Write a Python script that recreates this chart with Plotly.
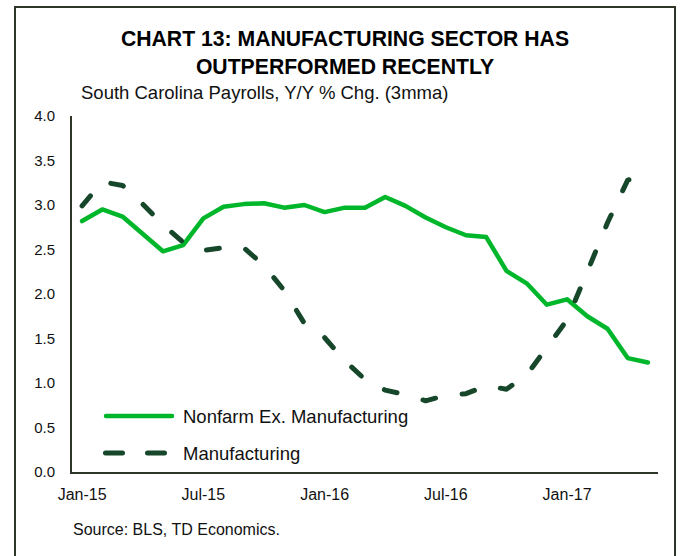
import plotly.graph_objects as go

# ---- data ----
months = ["Jan-15", "Feb-15", "Mar-15", "Apr-15", "May-15", "Jun-15", "Jul-15", "Aug-15",
          "Sep-15", "Oct-15", "Nov-15", "Dec-15", "Jan-16", "Feb-16", "Mar-16", "Apr-16",
          "May-16", "Jun-16", "Jul-16", "Aug-16", "Sep-16", "Oct-16", "Nov-16", "Dec-16",
          "Jan-17", "Feb-17", "Mar-17", "Apr-17", "May-17"]
nonfarm_ex_mfg = [2.82, 2.95, 2.87, 2.68, 2.48, 2.55, 2.85, 2.98, 3.01, 3.02, 2.97, 3.00,
                  2.92, 2.97, 2.97, 3.09, 2.99, 2.86, 2.75, 2.66, 2.64, 2.26, 2.12, 1.88,
                  1.94, 1.75, 1.61, 1.28, 1.23]
manufacturing = [2.99, 3.26, 3.22, 3.01, 2.78, 2.58, 2.49, 2.52, 2.52, 2.32, 2.04, 1.67,
                 1.51, 1.25, 1.04, 0.92, 0.87, 0.80, 0.86, 0.88, 0.97, 0.93, 1.09, 1.41,
                 1.71, 2.25, 2.80, 3.28, 3.33]
series_names = ["Nonfarm Ex. Manufacturing", "Manufacturing"]
x_tick_labels = ["Jan-15", "Jul-15", "Jan-16", "Jul-16", "Jan-17"]
title_text = "CHART 13: MANUFACTURING SECTOR HAS<br>OUTPERFORMED RECENTLY"
subtitle_text = "South Carolina Payrolls, Y/Y % Chg. (3mma)"
source_text = "Source: BLS, TD Economics."

# ---- style ----
GREEN = "#00B62A"
DARK = "#17472A"
AXIS = "#2E3529"
FONT = "Liberation Sans, Arial, sans-serif"
W, H = 681, 556
L, R, T, B = 72, 23, 116, 84
PW, PH = W - L - R, H - T - B


def px(xp):
    return (xp - L) / PW


def py(yp):
    return (H - B - yp) / PH


fig = go.Figure()
fig.add_trace(go.Scatter(x=months, y=nonfarm_ex_mfg, mode="lines", name=series_names[0],
                         line=dict(color=GREEN, width=4.5), showlegend=False))
fig.add_trace(go.Scatter(x=months, y=manufacturing, mode="lines", name=series_names[1],
                         line=dict(color=DARK, width=5, dash="13px,27px"), showlegend=False))

frame = dict(color=AXIS, width=2)
shapes = [
    # outer frame (open at the bottom, as in the source)
    dict(type="line", xref="paper", yref="paper", x0=px(15), x1=px(675), y0=py(7), y1=py(7), line=frame),
    dict(type="line", xref="paper", yref="paper", x0=px(15), x1=px(15), y0=py(7), y1=py(556), line=frame),
    dict(type="line", xref="paper", yref="paper", x0=px(675), x1=px(675), y0=py(7), y1=py(556), line=frame),
    # legend samples
    dict(type="line", xref="paper", yref="paper", x0=px(106), x1=px(172), y0=py(416), y1=py(416),
         line=dict(color=GREEN, width=4.5)),
    dict(type="line", xref="paper", yref="paper", x0=px(105.5), x1=px(165), y0=py(453), y1=py(453),
         line=dict(color=DARK, width=5, dash="17px,25px")),
]

annotations = [
    dict(text=subtitle_text, xref="paper", yref="paper", x=px(79), y=py(93), xanchor="left",
         yanchor="middle", showarrow=False, font=dict(family=FONT, size=18.5, color="#111")),
    dict(text=series_names[0], xref="paper", yref="paper", x=px(181), y=py(416), xanchor="left",
         yanchor="middle", showarrow=False, font=dict(family=FONT, size=18.5, color="#111")),
    dict(text=series_names[1], xref="paper", yref="paper", x=px(181), y=py(453), xanchor="left",
         yanchor="middle", showarrow=False, font=dict(family=FONT, size=18.5, color="#111")),
    dict(text=source_text, xref="paper", yref="paper", x=px(71), y=py(529), xanchor="left",
         yanchor="middle", showarrow=False, font=dict(family=FONT, size=16, color="#111")),
]

fig.update_layout(
    width=W, height=H,
    margin=dict(l=L, r=R, t=T, b=B, pad=0),
    paper_bgcolor="white", plot_bgcolor="white",
    title=dict(text=title_text, x=345 / W, xanchor="center", xref="container",
               y=1 - 46 / H, yanchor="top", yref="container",
               font=dict(family=FONT, size=21.2, color="#000", weight="bold")),
    font=dict(family=FONT, color="#111"),
    shapes=shapes, annotations=annotations,
    showlegend=False,
)
fig.update_xaxes(type="category", range=[-0.5, len(months) - 0.5], tickmode="array",
                 tickvals=x_tick_labels, ticktext=x_tick_labels, showgrid=False,
                 showline=True, linecolor=AXIS, linewidth=2, ticks="",
                 ticklabelstandoff=7, tickfont=dict(family=FONT, size=16, color="#111"),
                 zeroline=False)
fig.update_yaxes(range=[0, 4], dtick=0.5, tickformat=".1f", showgrid=False,
                 showline=True, linecolor=AXIS, linewidth=2, ticks="",
                 ticklabelstandoff=12, tickfont=dict(family=FONT, size=15, color="#111"),
                 zeroline=False)

post = """
document.body.style.margin = '0';
function roundCaps() {
  document.querySelectorAll('.scatterlayer .js-line, .shapelayer path').forEach(function (p) {
    p.style.strokeLinecap = 'round';
    p.style.strokeLinejoin = 'round';
  });
}
roundCaps();
var gd = document.getElementById('{plot_id}');
if (gd && gd.on) { gd.on('plotly_afterplot', roundCaps); }
"""

fig.write_html("out.html", post_script=post, config={"displayModeBar": False})
